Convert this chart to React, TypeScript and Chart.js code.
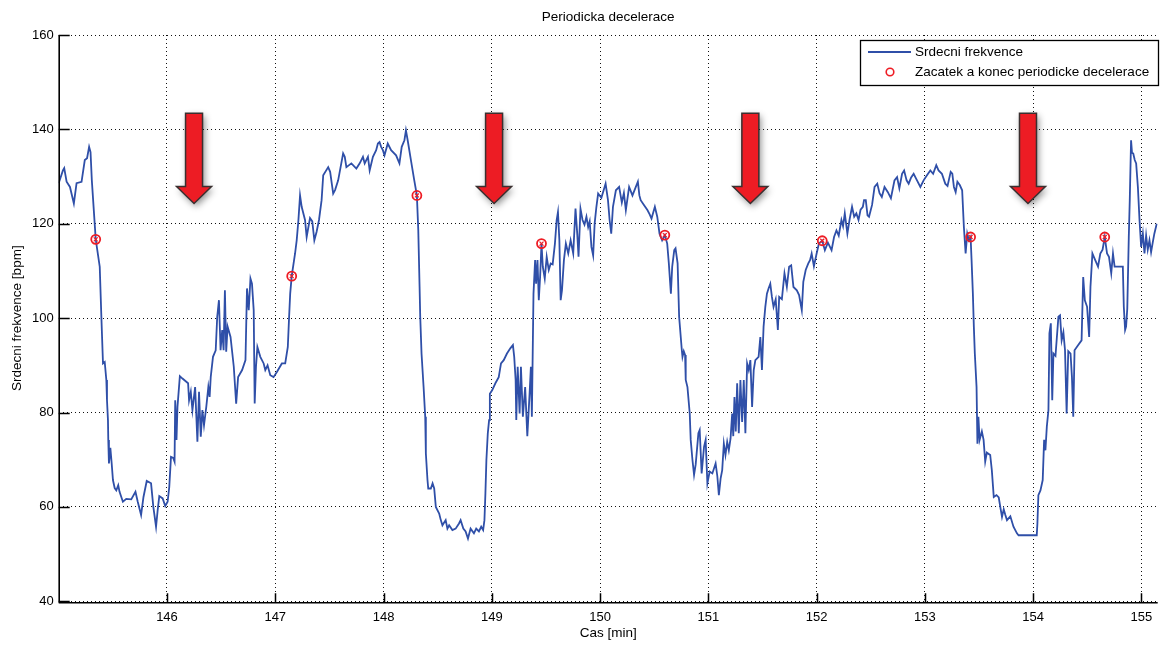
import { useEffect, useRef } from "react";
import { Chart, registerables } from "chart.js";

Chart.register(...registerables);

const TITLE = "Periodicka decelerace";
const X_TITLE = "Cas [min]";
const Y_TITLE = "Srdecni frekvence [bpm]";
const LEGEND_LINE = "Srdecni frekvence";
const LEGEND_MARK = "Zacatek a konec periodicke decelerace";

const X_MIN = 145;
const X_MAX = 155.15;
const Y_MIN = 40;
const Y_MAX = 160;
const xTicks = [146, 147, 148, 149, 150, 151, 152, 153, 154, 155];
const yTicks = [40, 60, 80, 100, 120, 140, 160];

// Heart-rate trace: time in minutes and rate in bpm
const timeMin = [
  145.0, 145.039, 145.051, 145.073, 145.104, 145.14, 145.165, 145.211, 145.241, 145.262,
  145.281, 145.294, 145.306, 145.342, 145.379, 145.394, 145.409, 145.425, 145.44, 145.446,
  145.455, 145.458, 145.464, 145.477, 145.489, 145.501, 145.517, 145.532, 145.55, 145.562,
  145.593, 145.624, 145.67, 145.709, 145.73, 145.761, 145.783, 145.813, 145.853, 145.874,
  145.899, 145.914, 145.929, 145.96, 145.984, 146.006, 146.021, 146.037, 146.058, 146.07,
  146.076, 146.088, 146.097, 146.119, 146.143, 146.195, 146.204, 146.22, 146.235, 146.26,
  146.281, 146.296, 146.312, 146.327, 146.342, 146.363, 146.382, 146.394, 146.404, 146.425,
  146.45, 146.464, 146.48, 146.495, 146.51, 146.523, 146.535, 146.547, 146.56, 146.587,
  146.617, 146.639, 146.657, 146.694, 146.725, 146.739, 146.755, 146.771, 146.785, 146.801,
  146.81, 146.822, 146.835, 146.862, 146.893, 146.908, 146.929, 146.954, 146.984, 147.015,
  147.061, 147.092, 147.116, 147.128, 147.138, 147.152, 147.183, 147.198, 147.214, 147.229,
  147.244, 147.275, 147.29, 147.321, 147.342, 147.361, 147.382, 147.404, 147.428, 147.443,
  147.489, 147.507, 147.535, 147.553, 147.581, 147.627, 147.642, 147.657, 147.703, 147.749,
  147.78, 147.81, 147.826, 147.856, 147.872, 147.902, 147.932, 147.948, 147.963, 147.978,
  147.994, 148.009, 148.039, 148.07, 148.116, 148.147, 148.168, 148.193, 148.207, 148.223,
  148.253, 148.284, 148.308, 148.321, 148.333, 148.339, 148.351, 148.37, 148.385, 148.391,
  148.406, 148.413, 148.437, 148.453, 148.468, 148.483, 148.514, 148.529, 148.544, 148.574,
  148.59, 148.606, 148.636, 148.666, 148.697, 148.712, 148.737, 148.758, 148.78, 148.804,
  148.835, 148.856, 148.881, 148.902, 148.92, 148.932, 148.941, 148.95, 148.963, 148.975,
  148.982, 149.003, 149.033, 149.064, 149.085, 149.11, 149.14, 149.171, 149.195, 149.207,
  149.22, 149.226, 149.239, 149.257, 149.269, 149.287, 149.308, 149.328, 149.349, 149.361,
  149.37, 149.385, 149.4, 149.409, 149.422, 149.434, 149.446, 149.459, 149.471, 149.489,
  149.507, 149.526, 149.544, 149.562, 149.583, 149.599, 149.611, 149.624, 149.636, 149.648,
  149.666, 149.684, 149.706, 149.728, 149.752, 149.773, 149.789, 149.801, 149.819, 149.838,
  149.856, 149.874, 149.89, 149.904, 149.92, 149.936, 149.95, 149.966, 149.982, 150.012,
  150.051, 150.073, 150.088, 150.103, 150.119, 150.146, 150.176, 150.201, 150.22, 150.238,
  150.268, 150.299, 150.349, 150.363, 150.375, 150.405, 150.437, 150.458, 150.475, 150.506,
  150.528, 150.549, 150.573, 150.598, 150.62, 150.635, 150.654, 150.666, 150.685, 150.697,
  150.716, 150.73, 150.755, 150.761, 150.773, 150.785, 150.791, 150.807, 150.828, 150.837,
  150.853, 150.868, 150.883, 150.908, 150.92, 150.938, 150.96, 150.975, 150.991, 151.012,
  151.037, 151.067, 151.083, 151.097, 151.113, 151.128, 151.143, 151.158, 151.174, 151.189,
  151.205, 151.22, 151.23, 151.241, 151.253, 151.266, 151.281, 151.296, 151.312, 151.327,
  151.342, 151.358, 151.373, 151.388, 151.404, 151.419, 151.434, 151.464, 151.48, 151.495,
  151.51, 151.526, 151.541, 151.556, 151.572, 151.587, 151.602, 151.622, 151.642, 151.654,
  151.679, 151.703, 151.725, 151.746, 151.765, 151.786, 151.817, 151.838, 151.863, 151.877,
  151.899, 151.923, 151.939, 151.954, 151.975, 152.0, 152.021, 152.052, 152.076, 152.104,
  152.138, 152.161, 152.183, 152.204, 152.229, 152.244, 152.26, 152.284, 152.305, 152.327,
  152.347, 152.367, 152.387, 152.406, 152.427, 152.438, 152.454, 152.47, 152.484, 152.512,
  152.535, 152.56, 152.581, 152.602, 152.627, 152.658, 152.686, 152.719, 152.743, 152.764,
  152.789, 152.808, 152.831, 152.85, 152.873, 152.896, 152.927, 152.958, 152.988, 153.019,
  153.05, 153.076, 153.105, 153.126, 153.157, 153.188, 153.209, 153.238, 153.253, 153.268,
  153.284, 153.3, 153.322, 153.344, 153.36, 153.376, 153.391, 153.406, 153.422, 153.431,
  153.443, 153.452, 153.461, 153.477, 153.485, 153.494, 153.505, 153.526, 153.542, 153.557,
  153.572, 153.603, 153.618, 153.636, 153.661, 153.682, 153.7, 153.712, 153.728, 153.743,
  153.758, 153.789, 153.818, 153.85, 153.865, 154.033, 154.039, 154.048, 154.067, 154.088,
  154.101, 154.113, 154.126, 154.141, 154.15, 154.163, 154.176, 154.187, 154.206, 154.233,
  154.248, 154.263, 154.279, 154.294, 154.309, 154.324, 154.345, 154.358, 154.37, 154.382,
  154.416, 154.447, 154.462, 154.477, 154.498, 154.517, 154.529, 154.547, 154.569, 154.599,
  154.62, 154.641, 154.661, 154.682, 154.7, 154.721, 154.737, 154.752, 154.828, 154.837,
  154.849, 154.858, 154.869, 154.883, 154.892, 154.904, 154.913, 154.924, 154.938, 154.951,
  154.967, 154.982, 154.997, 155.013, 155.028, 155.043, 155.058, 155.074, 155.089, 155.104,
  155.119, 155.141,
];

const heartRate = [
  128.6, 131.3, 131.8, 128.9, 127.8, 124.3, 128.6, 128.9, 133.5, 133.9,
  136.3, 135.2, 129.2, 116.7, 110.9, 100.3, 90.4, 90.7, 86.9, 82.6,
  78.4, 74.2, 69.2, 72.5, 69.3, 65.7, 64.0, 63.5, 64.6, 63.2,
  61.1, 61.7, 61.6, 63.2, 61.1, 58.3, 62.1, 65.5, 65.0, 60.0,
  55.8, 59.3, 62.3, 61.8, 60.2, 61.1, 64.2, 70.6, 70.4, 69.6,
  82.6, 74.2, 81.2, 87.7, 87.2, 86.2, 82.6, 84.4, 80.5, 85.4,
  73.8, 84.4, 74.9, 80.5, 77.3, 81.2, 85.4, 83.3, 87.5, 91.8,
  93.2, 100.3, 103.8, 93.2, 97.5, 93.2, 105.9, 92.9, 98.2, 96.0,
  89.7, 81.9, 87.5, 89.0, 91.1, 106.3, 101.7, 108.4, 107.3, 101.7,
  81.9, 89.7, 93.9, 91.8, 90.4, 89.0, 90.0, 87.9, 87.5, 88.6,
  90.4, 90.4, 93.9, 100.3, 105.2, 108.9, 113.7, 116.5, 120.8, 126.0,
  123.6, 120.8, 117.2, 121.2, 120.5, 116.5, 118.3, 120.8, 125.0, 130.3,
  132.0, 131.0, 126.4, 127.2, 129.2, 134.9, 134.2, 132.0, 132.8, 131.7,
  132.8, 134.2, 132.8, 134.2, 131.3, 134.2, 135.6, 137.0, 137.3, 136.3,
  135.6, 134.5, 137.0, 135.6, 134.5, 132.8, 136.3, 137.7, 139.8, 137.7,
  133.5, 129.2, 126.0, 118.6, 106.6, 100.3, 92.5, 85.4, 79.1, 71.3,
  65.7, 63.9, 63.9, 65.0, 63.9, 60.0, 58.6, 57.2, 56.1, 57.2,
  55.4, 56.1, 55.1, 55.4, 56.5, 57.2, 55.4, 54.8, 53.3, 55.4,
  54.4, 55.4, 54.8, 55.8, 55.1, 57.2, 62.9, 69.9, 75.6, 78.4,
  84.0, 84.7, 86.2, 87.5, 90.4, 91.1, 92.5, 93.6, 94.3, 91.8,
  86.9, 78.4, 89.7, 79.8, 89.7, 79.1, 85.4, 75.0, 84.0, 89.7,
  79.1, 105.2, 112.3, 107.3, 112.3, 103.8, 108.7, 115.8, 110.9, 108.4,
  113.0, 110.2, 111.6, 111.4, 115.8, 120.8, 122.5, 116.5, 103.8, 105.9,
  112.3, 115.8, 113.7, 116.5, 113.7, 123.2, 117.9, 113.0, 123.2, 120.8,
  119.8, 121.5, 119.3, 120.5, 115.1, 113.3, 120.1, 123.6, 126.4, 125.5,
  128.5, 125.0, 120.8, 117.9, 123.6, 127.1, 127.8, 124.5, 126.5, 122.9,
  127.8, 126.0, 128.9, 126.0, 125.0, 124.0, 122.9, 122.0, 121.1, 123.6,
  121.5, 117.9, 116.5, 117.6, 115.8, 111.6, 105.2, 110.9, 114.4, 114.8,
  111.6, 100.3, 93.2, 91.8, 93.0, 92.2, 86.9, 85.4, 79.8, 74.2,
  70.0, 66.8, 69.0, 75.6, 76.3, 67.1, 72.7, 74.2, 65.0, 67.5,
  67.1, 69.2, 66.5, 62.5, 66.0, 67.8, 73.4, 71.0, 73.8, 72.0,
  74.5, 79.8, 75.0, 83.3, 76.0, 86.2, 75.6, 86.9, 78.0, 86.9,
  75.6, 90.4, 89.0, 91.1, 81.2, 89.0, 91.1, 91.8, 96.0, 89.0,
  98.2, 102.4, 105.2, 106.3, 107.3, 104.5, 102.4, 104.0, 97.5, 104.5,
  104.0, 109.5, 106.6, 110.9, 111.2, 106.6, 105.9, 104.9, 101.7, 107.7,
  110.2, 111.6, 112.3, 113.7, 111.0, 113.7, 115.8, 116.4, 114.4, 116.0,
  114.4, 117.2, 118.6, 117.5, 120.8, 119.5, 122.2, 117.9, 121.0, 123.6,
  121.5, 122.2, 120.8, 123.0, 123.6, 125.0, 125.0, 121.8, 121.5, 124.0,
  127.8, 128.5, 126.5, 125.7, 127.8, 126.7, 125.4, 129.2, 129.9, 127.5,
  130.6, 131.3, 129.2, 128.5, 129.8, 130.6, 129.2, 127.8, 129.2, 130.3,
  131.3, 130.6, 132.4, 131.3, 130.6, 128.5, 128.0, 131.0, 130.6, 127.8,
  126.7, 128.9, 128.2, 127.1, 119.3, 113.7, 117.9, 116.5, 117.2, 112.3,
  105.2, 98.2, 92.5, 85.4, 73.4, 79.1, 74.2, 76.0, 74.2, 69.6,
  71.5, 71.0, 67.8, 62.1, 62.5, 62.0, 59.5, 57.9, 59.5, 58.3,
  57.2, 58.0, 55.8, 54.4, 54.0, 54.0, 56.5, 62.5, 63.5, 65.7,
  74.2, 72.0, 77.0, 80.5, 96.8, 98.9, 82.6, 92.5, 92.0, 100.3,
  100.6, 95.3, 97.0, 93.2, 79.8, 93.0, 92.5, 87.5, 79.1, 93.2,
  94.3, 95.3, 108.7, 103.8, 102.4, 96.0, 106.6, 113.7, 112.5, 110.9,
  113.7, 114.5, 117.2, 113.7, 113.0, 109.5, 113.7, 110.9, 110.9, 102.4,
  97.5, 98.2, 102.0, 117.2, 125.0, 137.7, 135.0, 134.9, 133.5, 132.8,
  127.8, 120.8, 115.1, 117.9, 113.7, 117.5, 114.5, 116.5, 114.0, 116.0,
  117.9, 120.0,
];

// Start and end points of each periodic deceleration
const markTime = [145.342, 147.152, 148.308, 149.459, 150.598, 152.052, 153.422, 154.661];
const markRate = [116.7, 108.9, 126.0, 115.8, 117.6, 116.4, 117.2, 117.2];

// Deceleration pointers (time, arrow top and tip in bpm)
const arrowTime = [146.25, 149.021, 151.388, 153.952];
const ARROW_TOP = 143.4;
const ARROW_TIP = 124.3;

const FONT = '"Liberation Sans", Arial, Helvetica, sans-serif';
const LINE_COLOR = "#2f4fa8";
const MARK_COLOR = "#ee1c24";

const decorations = {
  id: "decorations",
  afterDatasetsDraw(chart: any) {
    const { ctx, scales } = chart;
    const x = scales.x;
    const y = scales.y;
    const shaft = 8.5;
    const head = 17.5;
    const headLen = 17;
    for (const t of arrowTime) {
      const cx = x.getPixelForValue(t);
      const top = y.getPixelForValue(ARROW_TOP);
      const tip = y.getPixelForValue(ARROW_TIP);
      const hy = tip - headLen;
      ctx.save();
      ctx.beginPath();
      ctx.moveTo(cx - shaft, top);
      ctx.lineTo(cx + shaft, top);
      ctx.lineTo(cx + shaft, hy);
      ctx.lineTo(cx + head, hy);
      ctx.lineTo(cx, tip);
      ctx.lineTo(cx - head, hy);
      ctx.lineTo(cx - shaft, hy);
      ctx.closePath();
      ctx.shadowColor = "rgba(0,0,0,0.45)";
      ctx.shadowBlur = 7;
      ctx.shadowOffsetX = 2;
      ctx.shadowOffsetY = 3;
      ctx.fillStyle = "#ed1c24";
      ctx.fill();
      ctx.shadowColor = "rgba(0,0,0,0)";
      ctx.lineWidth = 1.5;
      ctx.strokeStyle = "#3a3030";
      ctx.lineJoin = "miter";
      ctx.stroke();
      ctx.restore();
    }
  },
  afterDraw(chart: any) {
    const { ctx, chartArea, scales } = chart;
    const { left, right, top, bottom } = chartArea;
    const x = scales.x;
    const y = scales.y;
    ctx.save();

    // axis lines and inward tick marks
    ctx.strokeStyle = "#000";
    ctx.lineWidth = 1.6;
    ctx.beginPath();
    ctx.moveTo(left + 0.5, top);
    ctx.lineTo(left + 0.5, bottom + 1.5);
    ctx.moveTo(left, bottom + 1.5);
    ctx.lineTo(right, bottom + 1.5);
    ctx.stroke();
    ctx.lineWidth = 1.5;
    ctx.beginPath();
    for (const v of yTicks) {
      const py = Math.round(y.getPixelForValue(v)) + 0.5;
      ctx.moveTo(left, py);
      ctx.lineTo(left + 11, py);
    }
    for (const v of xTicks) {
      const px = Math.round(x.getPixelForValue(v)) + 0.5;
      ctx.moveTo(px, bottom + 1.5);
      ctx.lineTo(px, bottom - 8);
    }
    ctx.stroke();

    // titles
    ctx.fillStyle = "#000";
    ctx.font = `13.5px ${FONT}`;
    ctx.textAlign = "center";
    ctx.textBaseline = "middle";
    ctx.fillText(TITLE, (left + right) / 2, 17);
    ctx.fillText(X_TITLE, (left + right) / 2, 633);
    ctx.save();
    ctx.translate(17, (top + bottom) / 2);
    ctx.rotate(-Math.PI / 2);
    ctx.fillText(Y_TITLE, 0, 0);
    ctx.restore();

    // legend box
    const lx = 860;
    const ly = 40;
    const lw = 298;
    const lh = 45;
    ctx.fillStyle = "#fff";
    ctx.fillRect(lx, ly, lw, lh);
    ctx.strokeStyle = "#000";
    ctx.lineWidth = 1.3;
    ctx.strokeRect(lx + 0.5, ly + 0.5, lw, lh);
    ctx.strokeStyle = LINE_COLOR;
    ctx.lineWidth = 1.8;
    ctx.beginPath();
    ctx.moveTo(868, 52);
    ctx.lineTo(911, 52);
    ctx.stroke();
    ctx.strokeStyle = MARK_COLOR;
    ctx.lineWidth = 1.6;
    ctx.beginPath();
    ctx.arc(890, 72, 3.8, 0, Math.PI * 2);
    ctx.stroke();
    ctx.fillStyle = "#000";
    ctx.textAlign = "left";
    ctx.fillText(LEGEND_LINE, 915, 52);
    ctx.fillText(LEGEND_MARK, 915, 72.5);
    ctx.restore();
  },
};

export default function App() {
  const canvasRef = useRef<HTMLCanvasElement>(null);

  useEffect(() => {
    const canvas = canvasRef.current;
    if (!canvas) return;
    Chart.defaults.font.family = FONT;
    Chart.defaults.font.size = 13;
    Chart.defaults.color = "#000";

    const trace = timeMin.map((t, i) => ({ x: t, y: heartRate[i] }));
    const marks = markTime.map((t, i) => ({ x: t, y: markRate[i] }));

    const gridCommon = {
      color: "#111",
      lineWidth: 1,
      drawTicks: false,
    };

    const chart = new Chart(canvas, {
      type: "line",
      data: {
        datasets: [
          {
            label: LEGEND_MARK,
            data: marks,
            showLine: false,
            pointStyle: "circle",
            pointRadius: 4.5,
            pointBorderWidth: 1.8,
            pointBorderColor: MARK_COLOR,
            pointBackgroundColor: "rgba(0,0,0,0)",
            order: 0,
          },
          {
            label: LEGEND_MARK,
            data: marks,
            showLine: false,
            pointStyle: "crossRot",
            pointRadius: 2.8,
            pointBorderWidth: 1.2,
            pointBorderColor: MARK_COLOR,
            order: 1,
          },
          {
            label: LEGEND_LINE,
            data: trace,
            borderColor: LINE_COLOR,
            borderWidth: 1.8,
            pointRadius: 0,
            tension: 0,
            fill: false,
            order: 2,
          },
        ],
      },
      options: {
        responsive: false,
        animation: false,
        devicePixelRatio: 1,
        layout: { padding: { top: 35, left: 0, right: 0, bottom: 0 } },
        plugins: {
          legend: { display: false },
          title: { display: false },
          tooltip: { enabled: false },
        },
        scales: {
          x: {
            type: "linear",
            min: X_MIN,
            max: X_MAX,
            afterBuildTicks: (s: any) => {
              s.ticks = xTicks.map((value) => ({ value }));
            },
            afterFit: (s: any) => {
              s.height = 44.7;
            },
            grid: gridCommon,
            border: { display: false, dash: [1, 3] },
            ticks: {
              color: "#000",
              padding: 8,
              maxRotation: 0,
              autoSkip: false,
              font: { size: 13 },
            },
          },
          y: {
            type: "linear",
            min: Y_MIN,
            max: Y_MAX,
            afterBuildTicks: (s: any) => {
              s.ticks = yTicks.map((value) => ({ value }));
            },
            afterFit: (s: any) => {
              s.width = 58.7;
            },
            grid: gridCommon,
            border: { display: false, dash: [1, 3] },
            ticks: {
              color: "#000",
              padding: 5,
              autoSkip: false,
              font: { size: 13 },
            },
          },
        },
      },
      plugins: [decorations],
    } as any);

    return () => chart.destroy();
  }, []);

  return (
    <div
      style={{
        position: "absolute",
        left: 0,
        top: 0,
        width: 1164,
        height: 646,
        background: "#fff",
      }}
    >
      <canvas ref={canvasRef} width={1164} height={646} style={{ display: "block" }} />
    </div>
  );
}
